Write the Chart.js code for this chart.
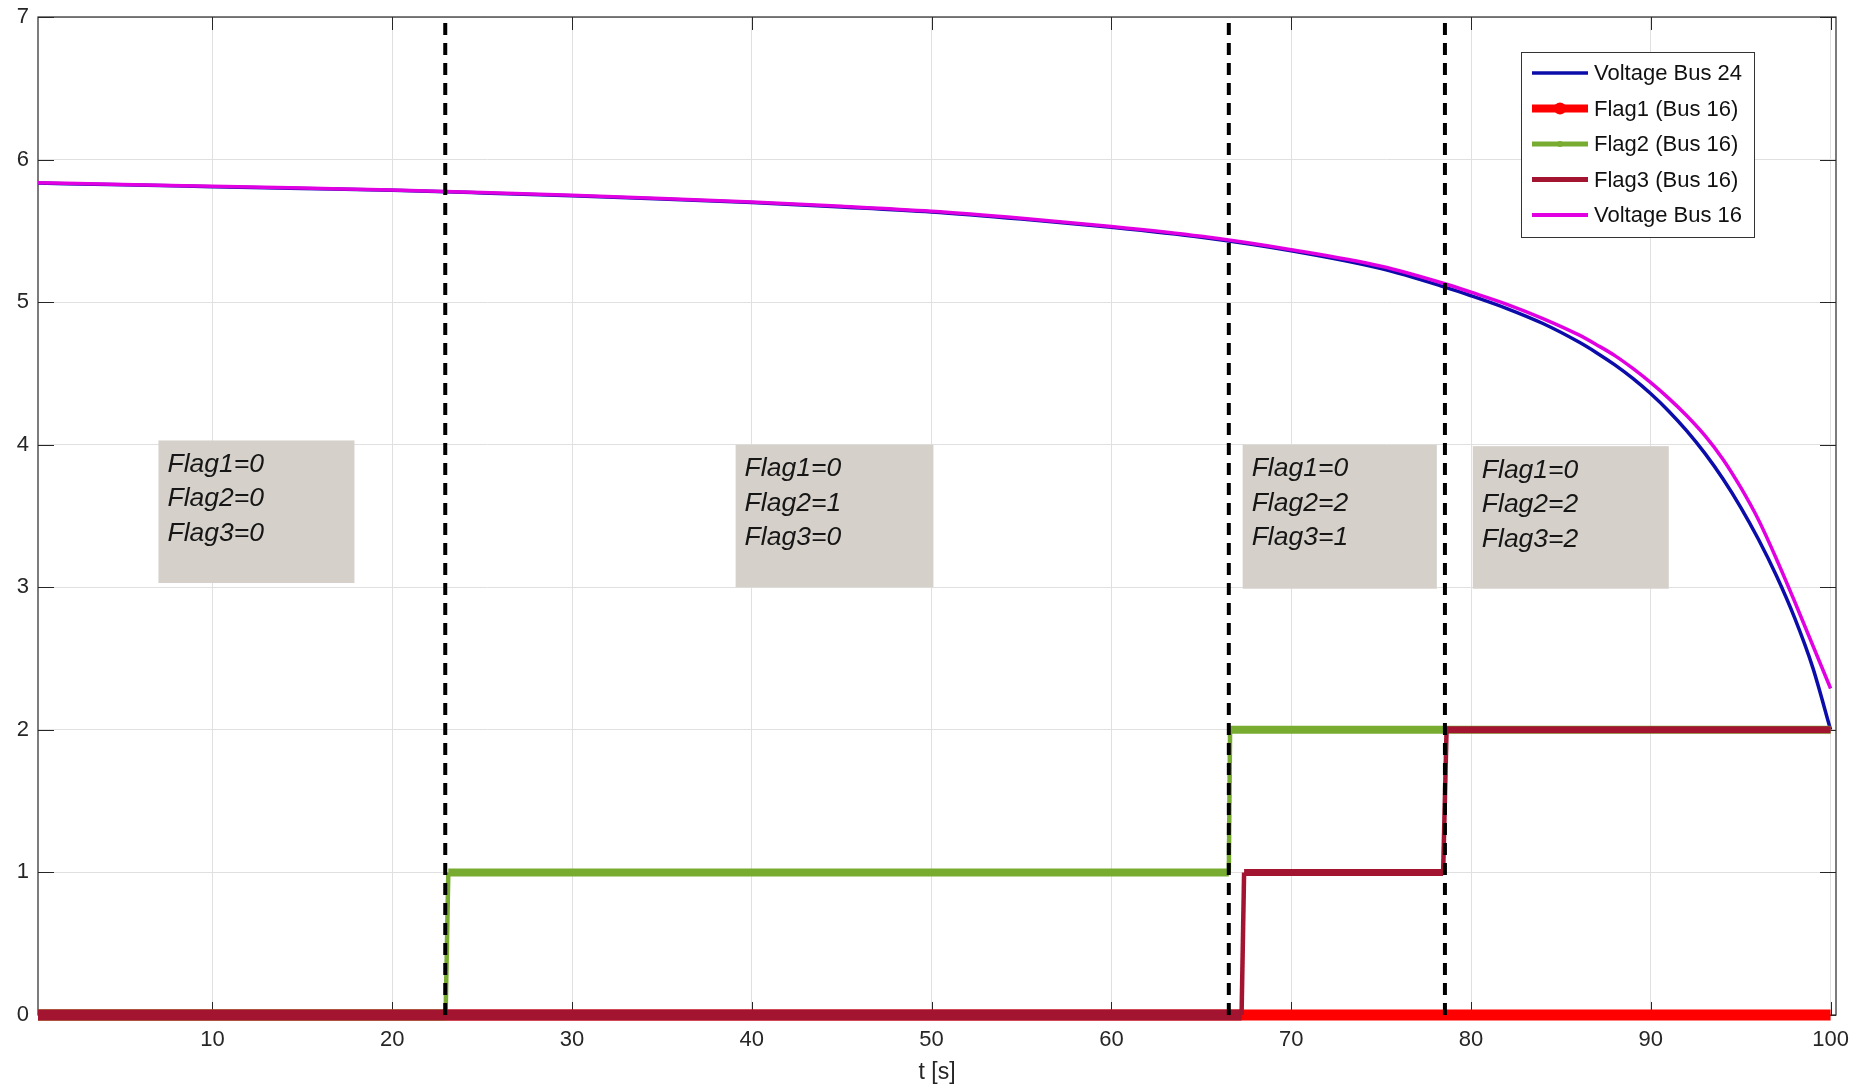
<!DOCTYPE html>
<html>
<head>
<meta charset="utf-8">
<title>Bus voltages and flags</title>
<script src="https://cdn.jsdelivr.net/npm/chart.js@4.4.1/dist/chart.umd.min.js"></script>
<style>
  html, body { margin: 0; padding: 0; background: #ffffff; }
  #wrap { width: 1863px; height: 1090px; }
</style>
</head>
<body>
<div id="wrap"><canvas id="chart" width="1863" height="1090"></canvas></div>
<script>
// Sample times [s] for the two bus voltage traces
const timeV = [0.3, 5, 10, 15, 20, 25, 30, 35, 40, 45, 50, 55, 60, 65, 70, 75, 78.5, 80, 82, 84, 86, 87, 88, 89, 90, 91, 92, 93, 94, 95, 96, 97, 98, 99, 100];
const voltageBus24 = [5.835, 5.823, 5.810, 5.797, 5.784, 5.766, 5.746, 5.724, 5.699, 5.668, 5.633, 5.583, 5.525, 5.455, 5.360, 5.235, 5.107, 5.045, 4.955, 4.850, 4.720, 4.644, 4.560, 4.465, 4.357, 4.235, 4.097, 3.941, 3.763, 3.561, 3.333, 3.077, 2.785, 2.440, 2.000];
const voltageBus16 = [5.838, 5.826, 5.813, 5.800, 5.787, 5.769, 5.749, 5.727, 5.702, 5.672, 5.637, 5.588, 5.531, 5.462, 5.368, 5.252, 5.131, 5.070, 4.985, 4.885, 4.770, 4.700, 4.625, 4.535, 4.435, 4.325, 4.203, 4.065, 3.900, 3.700, 3.470, 3.195, 2.900, 2.595, 2.290];

// Flag signals of bus 16 (step changes)
const flag1Time = [0.3, 100];
const flag1Values = [0, 0];
const flag2Time = [0.3, 22.97, 23.12, 66.53, 66.6, 100];
const flag2Values = [0, 0, 1, 1, 2, 2];
const flag3Time = [0.3, 67.24, 67.38, 78.45, 78.64, 100];
const flag3Values = [0, 0, 1, 1, 2, 2];

// Switching instants (dashed markers)
const eventTimes = [22.95, 66.53, 78.55];

// Flag-state annotation spans
const boxStart = [7.0, 39.1, 67.3, 80.1];
const boxEnd = [17.9, 50.1, 78.1, 91.0];
const boxTop = [4.03, 4.0, 4.0, 3.99];
const boxBottom = [3.03, 3.0, 2.99, 2.99];
const boxLabels = [
  ['Flag1=0', 'Flag2=0', 'Flag3=0'],
  ['Flag1=0', 'Flag2=1', 'Flag3=0'],
  ['Flag1=0', 'Flag2=2', 'Flag3=1'],
  ['Flag1=0', 'Flag2=2', 'Flag3=2']
];

// Axis ticks
const xTickValues = [10, 20, 30, 40, 50, 60, 70, 80, 90, 100];
const yTickValues = [0, 1, 2, 3, 4, 5, 6, 7];

const toPoints = (xs, ys) => xs.map((x, i) => ({ x: x, y: ys[i] }));

const FONT = '"Liberation Sans", Arial, sans-serif';
const COLORS = {
  bus24: 'rgb(12,12,170)',
  flag1: 'rgb(255,0,0)',
  flag2: 'rgb(119,172,48)',
  flag3: 'rgb(162,20,47)',
  bus16: 'rgb(225,0,225)',
  axis: '#262626',
  grid: '#e0e0e0',
  box: '#d5d1ca'
};

// Horizontal plateau segments look heavier than the vertical transitions (dense markers)
function stepWidth(zeroWidth, levelWidth, riseWidth) {
  return ctx => {
    const a = ctx.p0.parsed.y, b = ctx.p1.parsed.y;
    if (a !== b) return riseWidth;
    return a === 0 ? zeroWidth : levelWidth;
  };
}

const datasets = [
  {
    label: 'Voltage Bus 24', data: toPoints(timeV, voltageBus24),
    borderColor: COLORS.bus24, borderWidth: 3.5, pointRadius: 0,
    cubicInterpolationMode: 'monotone', order: 6, clip: false,
    legendStyle: { width: 3.5, marker: 0 }
  },
  {
    label: 'Flag1 (Bus 16)', data: toPoints(flag1Time, flag1Values),
    borderColor: COLORS.flag1, borderWidth: 11, pointRadius: 0, order: 5, clip: false,
    legendStyle: { width: 8, marker: 6 }
  },
  {
    label: 'Flag2 (Bus 16)', data: toPoints(flag2Time, flag2Values),
    borderColor: COLORS.flag2, borderWidth: 8, pointRadius: 0, order: 4, clip: false,
    segment: { borderWidth: stepWidth(11, 8, 4.5) },
    legendStyle: { width: 5, marker: 3 }
  },
  {
    label: 'Flag3 (Bus 16)', data: toPoints(flag3Time, flag3Values),
    borderColor: COLORS.flag3, borderWidth: 7, pointRadius: 0, order: 3, clip: false,
    segment: { borderWidth: stepWidth(11, 7, 4.5) },
    legendStyle: { width: 5, marker: 2.5 }
  },
  {
    label: 'Voltage Bus 16', data: toPoints(timeV, voltageBus16),
    borderColor: COLORS.bus16, borderWidth: 3.5, pointRadius: 0,
    cubicInterpolationMode: 'monotone', order: 2, clip: false,
    legendStyle: { width: 4, marker: 0 }
  }
];

eventTimes.forEach(t => {
  datasets.push({
    label: '', data: toPoints([t, t], [0, 7]),
    borderColor: '#000000', borderWidth: 4, borderDash: [12, 8],
    pointRadius: 0, order: 0, isEvent: true
  });
});

// Boxes, inner ticks and frame under the traces; legend on top
const decorations = {
  id: 'decorations',
  beforeDatasetsDraw(chart) {
    const { ctx, chartArea: ca, scales: { x, y } } = chart;
    ctx.save();
    // annotation boxes
    boxStart.forEach((b, i) => {
      const x0 = x.getPixelForValue(b), x1 = x.getPixelForValue(boxEnd[i]);
      const y0 = y.getPixelForValue(boxTop[i]), y1 = y.getPixelForValue(boxBottom[i]);
      ctx.fillStyle = COLORS.box;
      ctx.fillRect(x0, y0, x1 - x0, y1 - y0);
      ctx.fillStyle = '#161616';
      ctx.font = 'italic 26.5px ' + FONT;
      ctx.textAlign = 'left';
      ctx.textBaseline = 'middle';
      boxLabels[i].forEach((line, k) => {
        ctx.fillText(line, x0 + 9, y0 + 24 + k * 34.5);
      });
    });
    // frame
    ctx.strokeStyle = COLORS.axis;
    ctx.lineWidth = 1.2;
    ctx.strokeRect(ca.left, ca.top, ca.right - ca.left, ca.bottom - ca.top);
    // inward tick marks on all four sides
    ctx.beginPath();
    xTickValues.forEach(v => {
      const px = Math.round(x.getPixelForValue(v)) + 0.5;
      ctx.moveTo(px, ca.bottom); ctx.lineTo(px, ca.bottom - 13);
      ctx.moveTo(px, ca.top); ctx.lineTo(px, ca.top + 13);
    });
    yTickValues.forEach(v => {
      const py = Math.round(y.getPixelForValue(v)) + 0.5;
      ctx.moveTo(ca.left, py); ctx.lineTo(ca.left + 16, py);
      ctx.moveTo(ca.right, py); ctx.lineTo(ca.right - 16, py);
    });
    ctx.lineWidth = 1;
    ctx.stroke();
    ctx.restore();
  },
  afterDatasetsDraw(chart) {
    const { ctx, chartArea: ca } = chart;
    const entries = chart.data.datasets.filter(d => !d.isEvent);
    const w = 233, h = 185;
    const left = ca.right - 315, top = ca.top + 35;
    ctx.save();
    ctx.fillStyle = '#ffffff';
    ctx.fillRect(left, top, w, h);
    ctx.strokeStyle = '#333333';
    ctx.lineWidth = 1;
    ctx.strokeRect(left + 0.5, top + 0.5, w, h);
    entries.forEach((d, i) => {
      const cy = top + 21 + i * 35.5;
      const sx0 = left + 11, sx1 = left + 67;
      ctx.strokeStyle = d.borderColor;
      ctx.lineWidth = d.legendStyle.width;
      ctx.beginPath();
      ctx.moveTo(sx0, cy); ctx.lineTo(sx1, cy);
      ctx.stroke();
      if (d.legendStyle.marker > 0) {
        ctx.fillStyle = d.borderColor;
        ctx.beginPath();
        ctx.arc((sx0 + sx1) / 2, cy, d.legendStyle.marker, 0, Math.PI * 2);
        ctx.fill();
      }
      ctx.fillStyle = '#111111';
      ctx.font = '22px ' + FONT;
      ctx.textAlign = 'left';
      ctx.textBaseline = 'middle';
      ctx.fillText(d.label, left + 73, cy + 1);
    });
    ctx.restore();
  }
};

new Chart(document.getElementById('chart'), {
  type: 'line',
  data: { datasets: datasets },
  plugins: [decorations],
  options: {
    responsive: false,
    animation: false,
    devicePixelRatio: 1,
    layout: { padding: { top: 17, right: 27, left: 0, bottom: 0 } },
    plugins: { legend: { display: false }, tooltip: { enabled: false } },
    elements: { line: { tension: 0 } },
    scales: {
      x: {
        type: 'linear', min: 0.3, max: 100.3,
        afterBuildTicks: s => { s.ticks = xTickValues.map(v => ({ value: v })); },
        afterFit: s => { s.height = 75; s.paddingLeft = 0; s.paddingRight = 0; },
        grid: { color: COLORS.grid, drawTicks: false, lineWidth: 1 },
        border: { display: false },
        ticks: {
          autoSkip: false, maxRotation: 0, padding: 12, color: COLORS.axis,
          font: { family: FONT, size: 22 }
        },
        title: {
          display: true, text: 't [s]', color: COLORS.axis,
          font: { family: FONT, size: 23 },
          padding: { top: 0, bottom: 4 }
        }
      },
      y: {
        type: 'linear', min: 0, max: 7,
        afterBuildTicks: s => { s.ticks = yTickValues.map(v => ({ value: v })); },
        afterFit: s => { s.width = 38; s.paddingTop = 0; s.paddingBottom = 0; },
        grid: { color: COLORS.grid, drawTicks: false, lineWidth: 1 },
        border: { display: false },
        ticks: {
          padding: 9, color: COLORS.axis,
          font: { family: FONT, size: 22 }
        }
      }
    }
  }
});
</script>
</body>
</html>
